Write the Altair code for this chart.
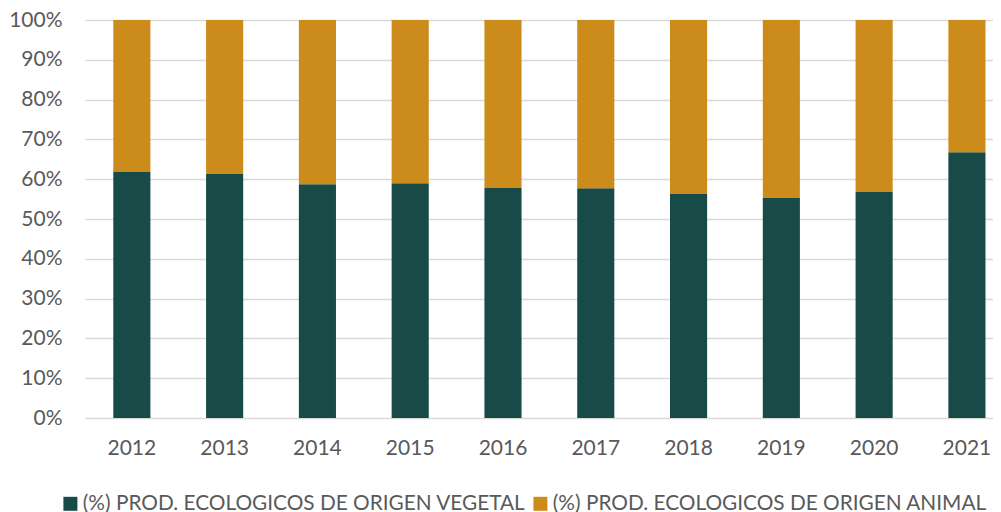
import altair as alt
import pandas as pd

years = ["2012", "2013", "2014", "2015", "2016", "2017", "2018", "2019", "2020", "2021"]
vegetal = [61.8, 61.3, 58.7, 59.0, 57.8, 57.7, 56.3, 55.3, 56.8, 66.8]
animal = [38.2, 38.7, 41.3, 41.0, 42.2, 42.3, 43.7, 44.7, 43.2, 33.2]
series = ["(%) PROD. ECOLOGICOS DE ORIGEN VEGETAL", "(%) PROD. ECOLOGICOS DE ORIGEN ANIMAL"]
colors = ["#184B48", "#CC8C1C"]
y_ticks = [0, 0.1, 0.2, 0.3, 0.4, 0.5, 0.6, 0.7, 0.8, 0.9, 1.0]

rows = []
for i, y in enumerate(years):
    rows.append({"year": y, "serie": series[0], "value": vegetal[i], "ord": 0})
    rows.append({"year": y, "serie": series[1], "value": animal[i], "ord": 1})
df = pd.DataFrame(rows)

FONT = "Lato"
GRAY = "#595959"

chart = alt.Chart(df).mark_bar().encode(
    x=alt.X("year:N", sort=years, title=None,
            scale=alt.Scale(paddingInner=0.6, paddingOuter=0.193, align=0.79),
            axis=alt.Axis(labelAngle=0, domain=False, ticks=False, labelPadding=19,
                          labelFontSize=21, labelFont=FONT, labelColor=GRAY, grid=False)),
    y=alt.Y("value:Q", stack="normalize", title=None,
            scale=alt.Scale(domain=[0, 1], nice=False),
            axis=alt.Axis(values=y_ticks, format=".0%", domain=False, ticks=False,
                          labelPadding=23, labelFontSize=21, labelFont=FONT, labelColor=GRAY,
                          gridColor="#d9d9d9", gridWidth=1.3)),
    color=alt.Color("serie:N", sort=series, title=None,
                    scale=alt.Scale(domain=series, range=colors),
                    legend=alt.Legend(orient="none", legendX=-25, legendY=473, direction="horizontal",
                                      symbolType="square", symbolSize=196, symbolStrokeWidth=0,
                                      labelFontSize=20.8, labelFont=FONT, labelColor=GRAY,
                                      labelOffset=2, columnPadding=4, padding=0, labelLimit=600)),
    order=alt.Order("ord:Q", sort="ascending"),
).properties(
    width=908, height=398,
    autosize=alt.AutoSizeParams(type="none"),
    padding={"left": 77, "top": 12, "right": 0, "bottom": 94},
).configure_view(stroke=None)

chart.save("out.html", embed_options={"renderer": "svg", "actions": False})
